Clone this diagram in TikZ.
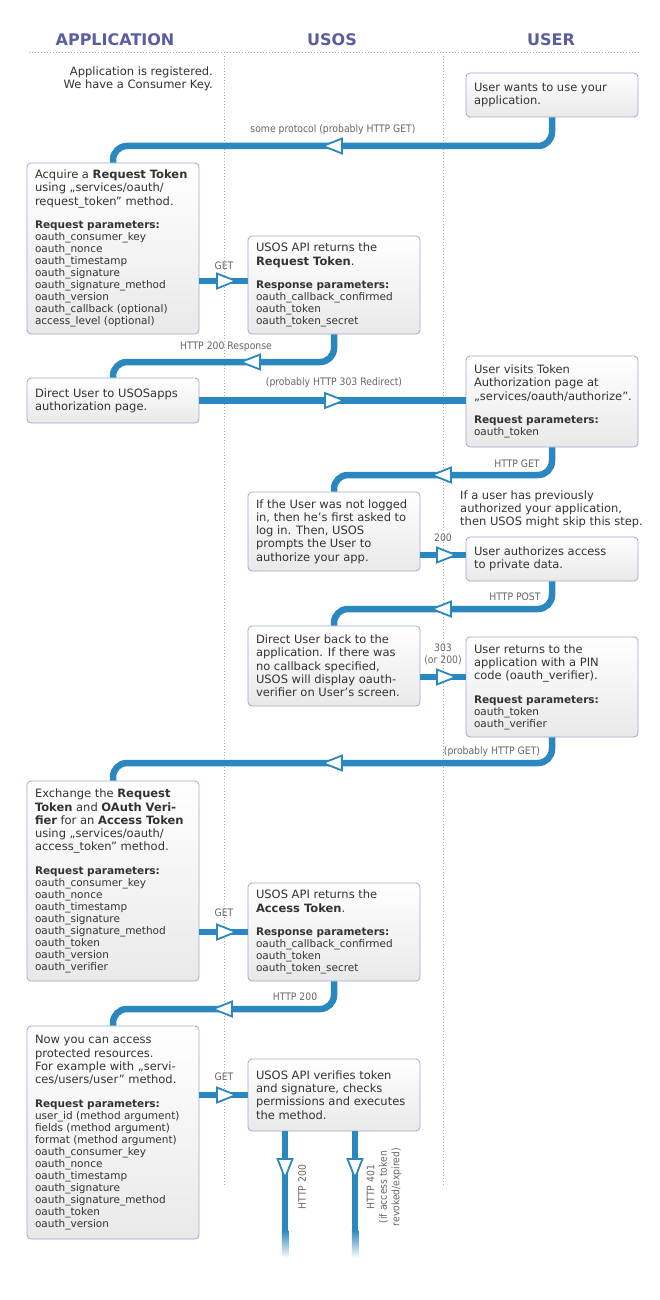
\documentclass[tikz,border=0pt]{standalone}
\usepackage{fontspec}
\setmainfont{DejaVu Sans}
\newfontfamily\condf{DejaVu Sans Condensed}
\usetikzlibrary{decorations.markings}
\definecolor{ublue}{HTML}{2B87BF}
\definecolor{hdrc}{HTML}{5A5E9E}
\definecolor{boxborder}{HTML}{A0A8CC}
\definecolor{boxbot}{HTML}{E9E9E9}
\definecolor{txt}{HTML}{333333}
\definecolor{lblc}{HTML}{666666}
\definecolor{dotc}{HTML}{AAAAAA}
\newcommand\mainf{\fontsize{11.5}{13.3}\selectfont}
\newcommand\paramf{\fontsize{10.5}{12}\selectfont}
\newcommand\tline[1]{\hbox to 156pt{#1\hss}}
\newcommand\boxtext[1]{\parbox{156pt}{#1}}
\newcommand\gap{\vskip 11.5pt}
\hbadness=10000 \hfuzz=50pt
\begin{document}
\begin{tikzpicture}[x=1pt,y=-1pt,
 box/.style={draw=boxborder, line width=0.8pt, rounded corners=4pt, top color=white, bottom color=boxbot, minimum width=172pt, inner sep=0pt, text=txt},
 hdr/.style={font=\fontsize{16}{18}\selectfont\bfseries, text=hdrc, inner sep=0pt},
 lbl/.style={font=\condf\fontsize{10.3}{12.5}\selectfont, text=lblc, inner sep=0pt, align=center},
 note/.style={font=\mainf, text=txt, inner sep=0pt},
 dots/.style={dotc, line width=1pt, dash pattern=on 1pt off 2pt},
 conn/.style={draw=ublue, line width=6.5pt, rounded corners=14pt},
 tri/.style={postaction={decorate, decoration={markings, mark=at position #1 with {\draw[draw=ublue, fill=white, line width=1.8pt, sharp corners, line join=miter] (-9.5,-7.5) -- (9.5,0) -- (-9.5,7.5) -- cycle;}}}}
]
\fill[white] (0,0) rectangle (660,1300);
\useasboundingbox (0,0) rectangle (660,1300);

% headers and lanes
\node[hdr] (happ) at (115,40) {APPLICATION};
\node[hdr] (husos) at (332,40) {USOS};
\node[hdr] (huser) at (551,40) {USER};
\draw[dots] (29,53) -- (641,53);
\draw[dots] (224,56) -- (224,1185);
\draw[dots] (443,56) -- (443,1185);

% notes
\node[note, align=right, anchor=east] (nreg) at (213,78.5) {Application is registered.\\We have a Consumer Key.};
\node[note, align=left, anchor=west] (nskip) at (460,509.5) {If a user has previously\\authorized your application,\\then USOS might skip this step.};

% boxes
\node[box, minimum height=44pt] (u1) at (552,95) {\boxtext{\mainf
 \tline{User wants to use your}\tline{application.}}};

\node[box, minimum height=171pt] (a1) at (113,248.5) {\boxtext{\mainf
 \tline{Acquire a \textbf{Request Token}}\tline{using „services/oauth/}\tline{request\_token” method.}
 \paramf\gap
 \tline{\textbf{Request parameters:}}\tline{oauth\_consumer\_key}\tline{oauth\_nonce}\tline{oauth\_timestamp}\tline{oauth\_signature}\tline{oauth\_signature\_method}\tline{oauth\_version}\tline{oauth\_callback (optional)}\tline{access\_level (optional)}}};

\node[box, minimum height=98pt] (s1) at (334,285) {\boxtext{\mainf
 \tline{USOS API returns the}\tline{\textbf{Request Token}.}
 \paramf\gap
 \tline{\textbf{Response parameters:}}\tline{oauth\_callback\_confirmed}\tline{oauth\_token}\tline{oauth\_token\_secret}}};

\node[box, minimum height=45pt] (a2) at (113,400.5) {\boxtext{\mainf
 \tline{Direct User to USOSapps}\tline{authorization page.}}};

\node[box, minimum height=91pt] (u2) at (552,401.5) {\boxtext{\mainf
 \tline{User visits Token}\tline{Authorization page at}\tline{„services/oauth/authorize”.}
 \paramf\gap
 \tline{\textbf{Request parameters:}}\tline{oauth\_token}}};

\node[box, minimum height=79pt] (s2) at (334,531.5) {\boxtext{\mainf
 \tline{If the User was not logged}\tline{in, then he’s first asked to}\tline{log in. Then, USOS}\tline{prompts the User to}\tline{authorize your app.}}};

\node[box, minimum height=44pt] (u3) at (552,559) {\boxtext{\mainf
 \tline{User authorizes access}\tline{to private data.}}};

\node[box, minimum height=80pt] (s3) at (334,666) {\boxtext{\mainf
 \tline{Direct User back to the}\tline{application. If there was}\tline{no callback specified,}\tline{USOS will display oauth-}\tline{verifier on User’s screen.}}};

\node[box, minimum height=100pt] (u4) at (552,687) {\boxtext{\mainf
 \tline{User returns to the}\tline{application with a PIN}\tline{code (oauth\_verifier).}
 \paramf\gap
 \tline{\textbf{Request parameters:}}\tline{oauth\_token}\tline{oauth\_verifier}}};

\node[box, minimum height=200pt] (a3) at (113,881) {\boxtext{\mainf
 \tline{Exchange the \textbf{Request}}\tline{\textbf{Token} and \textbf{OAuth Veri-}}\tline{\textbf{fier} for an \textbf{Access Token}}\tline{using „services/oauth/}\tline{access\_token” method.}
 \paramf\gap
 \tline{\textbf{Request parameters:}}\tline{oauth\_consumer\_key}\tline{oauth\_nonce}\tline{oauth\_timestamp}\tline{oauth\_signature}\tline{oauth\_signature\_method}\tline{oauth\_token}\tline{oauth\_version}\tline{oauth\_verifier}}};

\node[box, minimum height=98pt] (s4) at (334,932) {\boxtext{\mainf
 \tline{USOS API returns the}\tline{\textbf{Access Token}.}
 \paramf\gap
 \tline{\textbf{Response parameters:}}\tline{oauth\_callback\_confirmed}\tline{oauth\_token}\tline{oauth\_token\_secret}}};

\node[box, minimum height=213pt] (a4) at (113,1132.5) {\boxtext{\mainf
 \tline{Now you can access}\tline{protected resources.}\tline{For example with „servi-}\tline{ces/users/user” method.}
 \paramf\gap
 \tline{\textbf{Request parameters:}}\tline{user\_id (method argument)}\tline{fields (method argument)}\tline{format (method argument)}\tline{oauth\_consumer\_key}\tline{oauth\_nonce}\tline{oauth\_timestamp}\tline{oauth\_signature}\tline{oauth\_signature\_method}\tline{oauth\_token}\tline{oauth\_version}}};

\node[box, minimum height=72pt] (s5) at (334,1095) {\boxtext{\mainf
 \tline{USOS API verifies token}\tline{and signature, checks}\tline{permissions and executes}\tline{the method.}}};

% levels and helper coordinates
\coordinate (h1) at (0,146);
\coordinate (h3) at (0,362);
\coordinate (h5) at (0,475);
\coordinate (h7) at (0,609);
\coordinate (h9) at (0,763);
\coordinate (h11) at (0,1009);
\coordinate (c2) at ([yshift=4pt]s1.west);
\coordinate (c6) at ([yshift=4pt]u3.west);
\coordinate (c8) at ([yshift=10pt]u4.west);
\coordinate (e1) at (285,1230);
\coordinate (e2) at (355,1230);

% connectors
\draw[conn, tri=242pt] (u1.south) -- (u1.south |- h1) -| (a1.north);
\draw[conn, tri=27pt] (c2 -| a1.east) -- (c2);
\draw[conn, tri=105pt] (s1.south) -- (s1.south |- h3) -| (a2.north);
\draw[conn, tri=135pt] (a2.east) -- (a2.east -| u2.west);
\draw[conn, tri=132pt] (u2.south) -- (u2.south |- h5) -| (s2.north);
\draw[conn, tri=26pt] (c6 -| s2.east) -- (c6);
\draw[conn, tri=132pt] (u3.south) -- (u3.south |- h7) -| (s3.north);
\draw[conn, tri=26pt] (c8 -| s3.east) -- (c8);
\draw[conn, tri=239pt] (u4.south) -- (u4.south |- h9) -| (a3.north);
\draw[conn, tri=27pt] (s4.west -| a3.east) -- (s4.west);
\draw[conn, tri=133pt] (s4.south) -- (s4.south |- h11) -| (a4.north);
\draw[conn, tri=27pt] (s5.west -| a4.east) -- (s5.west);
\draw[conn, tri=37pt] (s5.south -| e1) -- (e1);
\draw[conn, tri=37pt] (s5.south -| e2) -- (e2);
\shade[top color=ublue, bottom color=white] (281.75,1230) rectangle (288.25,1258);
\shade[top color=ublue, bottom color=white] (351.75,1230) rectangle (358.25,1258);

% labels
\node[lbl] (l1) at (333,130) {some protocol (probably HTTP GET)};
\node[lbl] (l2) at (224,266) {GET};
\node[lbl] (l3) at (226,347) {HTTP 200 Response};
\node[lbl] (l4) at (334,383) {(probably HTTP 303 Redirect)};
\node[lbl] (l5) at (517,464) {HTTP GET};
\node[lbl] (l6) at (443,538) {200};
\node[lbl] (l7) at (515,597) {HTTP POST};
\node[lbl] (l8) at (443,654.5) {303\\(or 200)};
\node[lbl] (l9) at (492,752) {(probably HTTP GET)};
\node[lbl] (l10) at (224,913) {GET};
\node[lbl] (l11) at (295,997) {HTTP 200};
\node[lbl] (l12) at (224,1077) {GET};
\node[lbl, rotate=90] (l13) at (302,1187) {HTTP 200};
\node[lbl, rotate=90] (l14) at (384,1187) {HTTP 401\\(if access token\\revoked/expired)};
\end{tikzpicture}
\end{document}
